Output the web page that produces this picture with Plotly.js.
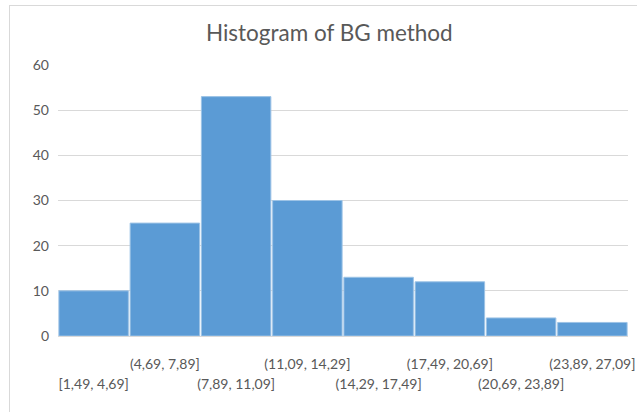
<!DOCTYPE html>
<html>
<head>
<meta charset="utf-8">
<script src="https://cdn.plot.ly/plotly-3.0.1.min.js"></script>
<style>
  html, body { margin: 0; padding: 0; background: #fff; overflow: hidden; }
  #frame { position: absolute; left: 9px; top: 5px; width: 700px; height: 500px; border: 1px solid #d9d9d9; box-sizing: border-box; }
  #chart { position: absolute; left: 0; top: 0; width: 637px; height: 412px; }
</style>
</head>
<body>
<div id="frame"></div>
<div id="chart"></div>
<script>
const categories = ["[1,49, 4,69]", "(4,69, 7,89]", "(7,89, 11,09]", "(11,09, 14,29]", "(14,29, 17,49]", "(17,49, 20,69]", "(20,69, 23,89]", "(23,89, 27,09]"];
const counts = [10, 25, 53, 30, 13, 12, 4, 3];
const yTicks = [0, 10, 20, 30, 40, 50, 60];

const idx = categories.map((c, i) => i);
const upperIdx = idx.filter(i => i % 2 === 1);
const lowerIdx = idx.filter(i => i % 2 === 0);

const font = "Lato, 'Open Sans', sans-serif";
const grey = "#595959";

const trace = {
  type: "bar",
  x: idx,
  y: counts,
  hovertext: categories,
  hoverinfo: "text+y",
  textposition: "none",
  marker: { color: "#5b9bd5", line: { color: "#9dc3e6", width: 1 } }
};

const layout = {
  width: 637,
  height: 412,
  paper_bgcolor: "rgba(0,0,0,0)",
  plot_bgcolor: "rgba(0,0,0,0)",
  margin: { l: 58, r: 9, t: 65, b: 76 },
  bargap: 0.025,
  showlegend: false,
  title: { text: "Histogram of BG method", x: 0.517, xanchor: "center", y: 0.92, yanchor: "middle",
           font: { family: font, size: 22.5, color: grey } },
  font: { family: font, size: 14, color: grey },
  xaxis: {
    type: "linear",
    range: [-0.5, categories.length - 0.5],
    tickvals: upperIdx,
    ticktext: upperIdx.map(i => categories[i]),
    ticks: "",
    showgrid: false,
    zeroline: false,
    showline: false,
    ticklabelstandoff: 18,
    tickfont: { family: font, size: 14, color: grey }
  },
  xaxis2: {
    type: "linear",
    overlaying: "x",
    matches: "x",
    anchor: "y",
    side: "bottom",
    range: [-0.5, categories.length - 0.5],
    tickvals: lowerIdx,
    ticktext: lowerIdx.map(i => categories[i]),
    ticks: "",
    showgrid: false,
    zeroline: false,
    showline: false,
    ticklabelstandoff: 38,
    tickfont: { family: font, size: 14, color: grey }
  },
  yaxis: {
    range: [0, 60],
    tickvals: yTicks,
    ticktext: yTicks.map(String),
    showgrid: true,
    gridcolor: "#d9d9d9",
    gridwidth: 1,
    zeroline: true,
    zerolinecolor: "#d9d9d9",
    zerolinewidth: 1,
    showline: false,
    ticks: "",
    ticklabelstandoff: 8,
    tickfont: { family: font, size: 14, color: grey }
  }
};

const helper = { type: "scatter", x: [], y: [], xaxis: "x2", yaxis: "y", hoverinfo: "skip", showlegend: false };

Plotly.newPlot("chart", [trace, helper], layout, { displayModeBar: false, staticPlot: true });
</script>
</body>
</html>
